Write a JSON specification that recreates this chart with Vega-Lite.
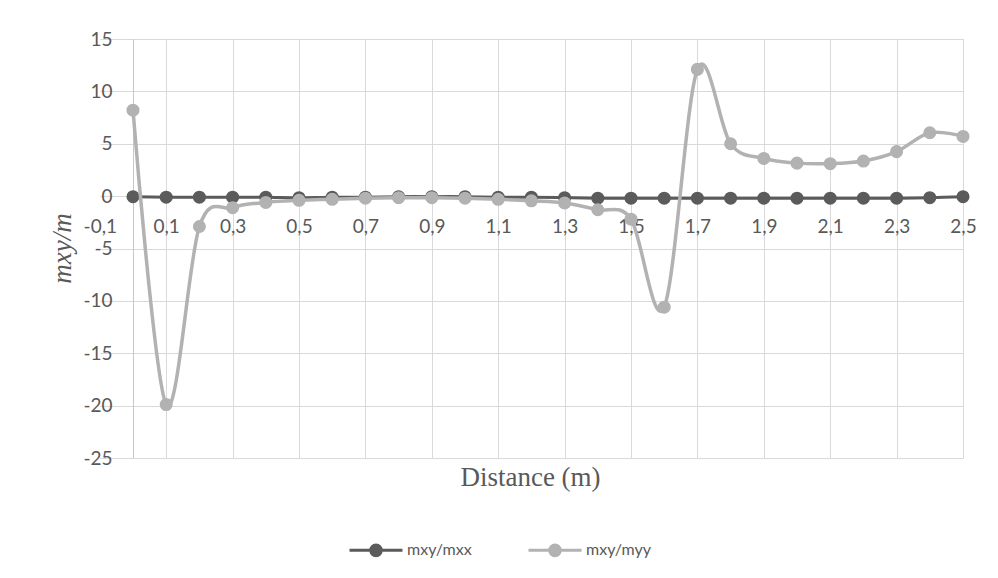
{
  "$schema": "https://vega.github.io/schema/vega-lite/v6.json",
  "autosize": {"type": "none"},
  "width": 830,
  "height": 419,
  "padding": {"left": 133, "top": 39, "right": 35, "bottom": 120},
  "background": "white",
  "config": {
    "view": {"stroke": null},
    "font": "Lato"
  },
  "data": {
    "values": [
      {"series": "mxy/mxx", "x": 0.0, "y": -0.05},
      {"series": "mxy/mxx", "x": 0.1, "y": -0.1},
      {"series": "mxy/mxx", "x": 0.2, "y": -0.1},
      {"series": "mxy/mxx", "x": 0.3, "y": -0.1},
      {"series": "mxy/mxx", "x": 0.4, "y": -0.1},
      {"series": "mxy/mxx", "x": 0.5, "y": -0.15},
      {"series": "mxy/mxx", "x": 0.6, "y": -0.1},
      {"series": "mxy/mxx", "x": 0.7, "y": -0.1},
      {"series": "mxy/mxx", "x": 0.8, "y": -0.05},
      {"series": "mxy/mxx", "x": 0.9, "y": -0.05},
      {"series": "mxy/mxx", "x": 1.0, "y": -0.05},
      {"series": "mxy/mxx", "x": 1.1, "y": -0.1},
      {"series": "mxy/mxx", "x": 1.2, "y": -0.1},
      {"series": "mxy/mxx", "x": 1.3, "y": -0.15},
      {"series": "mxy/mxx", "x": 1.4, "y": -0.2},
      {"series": "mxy/mxx", "x": 1.5, "y": -0.2},
      {"series": "mxy/mxx", "x": 1.6, "y": -0.2},
      {"series": "mxy/mxx", "x": 1.7, "y": -0.2},
      {"series": "mxy/mxx", "x": 1.8, "y": -0.2},
      {"series": "mxy/mxx", "x": 1.9, "y": -0.2},
      {"series": "mxy/mxx", "x": 2.0, "y": -0.2},
      {"series": "mxy/mxx", "x": 2.1, "y": -0.2},
      {"series": "mxy/mxx", "x": 2.2, "y": -0.2},
      {"series": "mxy/mxx", "x": 2.3, "y": -0.2},
      {"series": "mxy/mxx", "x": 2.4, "y": -0.15},
      {"series": "mxy/mxx", "x": 2.5, "y": -0.05},
      {"series": "mxy/myy", "x": 0.0, "y": 8.2},
      {"series": "mxy/myy", "x": 0.1, "y": -19.9},
      {"series": "mxy/myy", "x": 0.2, "y": -2.9},
      {"series": "mxy/myy", "x": 0.3, "y": -1.1},
      {"series": "mxy/myy", "x": 0.4, "y": -0.6},
      {"series": "mxy/myy", "x": 0.5, "y": -0.4},
      {"series": "mxy/myy", "x": 0.6, "y": -0.3},
      {"series": "mxy/myy", "x": 0.7, "y": -0.2},
      {"series": "mxy/myy", "x": 0.8, "y": -0.15},
      {"series": "mxy/myy", "x": 0.9, "y": -0.15},
      {"series": "mxy/myy", "x": 1.0, "y": -0.2},
      {"series": "mxy/myy", "x": 1.1, "y": -0.3},
      {"series": "mxy/myy", "x": 1.2, "y": -0.45},
      {"series": "mxy/myy", "x": 1.3, "y": -0.65},
      {"series": "mxy/myy", "x": 1.4, "y": -1.3},
      {"series": "mxy/myy", "x": 1.5, "y": -2.2},
      {"series": "mxy/myy", "x": 1.6, "y": -10.6},
      {"series": "mxy/myy", "x": 1.7, "y": 12.1},
      {"series": "mxy/myy", "x": 1.8, "y": 5.0},
      {"series": "mxy/myy", "x": 1.9, "y": 3.6},
      {"series": "mxy/myy", "x": 2.0, "y": 3.15},
      {"series": "mxy/myy", "x": 2.1, "y": 3.1},
      {"series": "mxy/myy", "x": 2.2, "y": 3.35},
      {"series": "mxy/myy", "x": 2.3, "y": 4.25},
      {"series": "mxy/myy", "x": 2.4, "y": 6.05},
      {"series": "mxy/myy", "x": 2.5, "y": 5.7}
    ]
  },
  "encoding": {
    "x": {
      "field": "x",
      "type": "quantitative",
      "scale": {"domain": [-0.1, 2.5], "range": [-33.2, 830], "nice": false, "zero": false},
      "axis": {
        "values": [-0.1, 0.1, 0.3, 0.5, 0.7, 0.9, 1.1, 1.3, 1.5, 1.7, 1.9, 2.1, 2.3, 2.5],
        "labelExpr": "replace(replace(format(datum.value, '.1f'), '.', ','), '\u2212', '-')",
        "offset": -262,
        "grid": true,
        "gridColor": "#d9d9d9",
        "gridWidth": 1,
        "gridOpacity": {"condition": {"test": "datum.value < 0", "value": 0}, "value": 1},
        "domain": false,
        "ticks": false,
        "labelFont": "Lato",
        "labelFontSize": 19,
        "labelColor": "#595959",
        "labelPadding": 21,
        "labelFlush": false,
        "labelOverlap": false,
        "title": "Distance (m)",
        "titleFont": "Liberation Serif",
        "titleFontSize": 27,
        "titleFontWeight": "normal",
        "titleColor": "#595959",
        "titleX": 397,
        "titleY": 281,
        "titleAlign": "center",
        "titleBaseline": "middle"
      }
    },
    "y": {
      "field": "y",
      "type": "quantitative",
      "scale": {"domain": [-25, 15], "nice": false},
      "axis": {
        "values": [-25, -20, -15, -10, -5, 0, 5, 10, 15],
        "labelExpr": "replace(datum.label, '\u2212', '-')",
        "grid": true,
        "gridColor": "#d9d9d9",
        "domain": true,
        "domainColor": "#c8c8c8",
        "ticks": false,
        "labelFont": "Lato",
        "labelFontSize": 19,
        "labelColor": "#595959",
        "labelPadding": 21,
        "title": "mxy/m",
        "titleFont": "Liberation Serif",
        "titleFontStyle": "italic",
        "titleFontSize": 27,
        "titleFontWeight": "normal",
        "titleColor": "#595959",
        "titleX": -71,
        "titleY": 209,
        "titleAlign": "center",
        "titleBaseline": "middle"
      }
    },
    "color": {
      "field": "series",
      "type": "nominal",
      "scale": {"domain": ["mxy/mxx", "mxy/myy"], "range": ["#5b5b5b", "#b2b2b2"]},
      "legend": {
        "orient": "none",
        "direction": "horizontal",
        "legendX": 215,
        "legendY": 483,
        "title": null,
        "symbolType": "M-1,0L1,0M0.2,0A0.2,0.2,0,1,1,-0.2,0A0.2,0.2,0,1,1,0.2,0Z",
        "symbolSize": 2809,
        "symbolStrokeWidth": 3,
        "labelFont": "Lato",
        "labelFontSize": 16,
        "labelColor": "#595959",
        "labelOffset": 3,
        "columnPadding": 50,
        "encode": {
          "symbols": {
            "update": {
              "fill": {"scale": "color", "field": "value"},
              "stroke": {"scale": "color", "field": "value"},
              "opacity": {"value": 1}
            }
          }
        }
      }
    }
  },
  "layer": [
    {
      "transform": [{"filter": "datum.series == 'mxy/mxx'"}],
      "mark": {"type": "line", "interpolate": "cardinal", "tension": 0, "strokeWidth": 3}
    },
    {
      "transform": [{"filter": "datum.series == 'mxy/mxx'"}],
      "mark": {"type": "point", "shape": "circle", "filled": true, "size": 170, "opacity": 1}
    },
    {
      "transform": [{"filter": "datum.series == 'mxy/myy'"}],
      "mark": {"type": "line", "interpolate": "cardinal", "tension": 0, "strokeWidth": 3.5}
    },
    {
      "transform": [{"filter": "datum.series == 'mxy/myy'"}],
      "mark": {"type": "point", "shape": "circle", "filled": true, "size": 170, "opacity": 1}
    }
  ]
}
